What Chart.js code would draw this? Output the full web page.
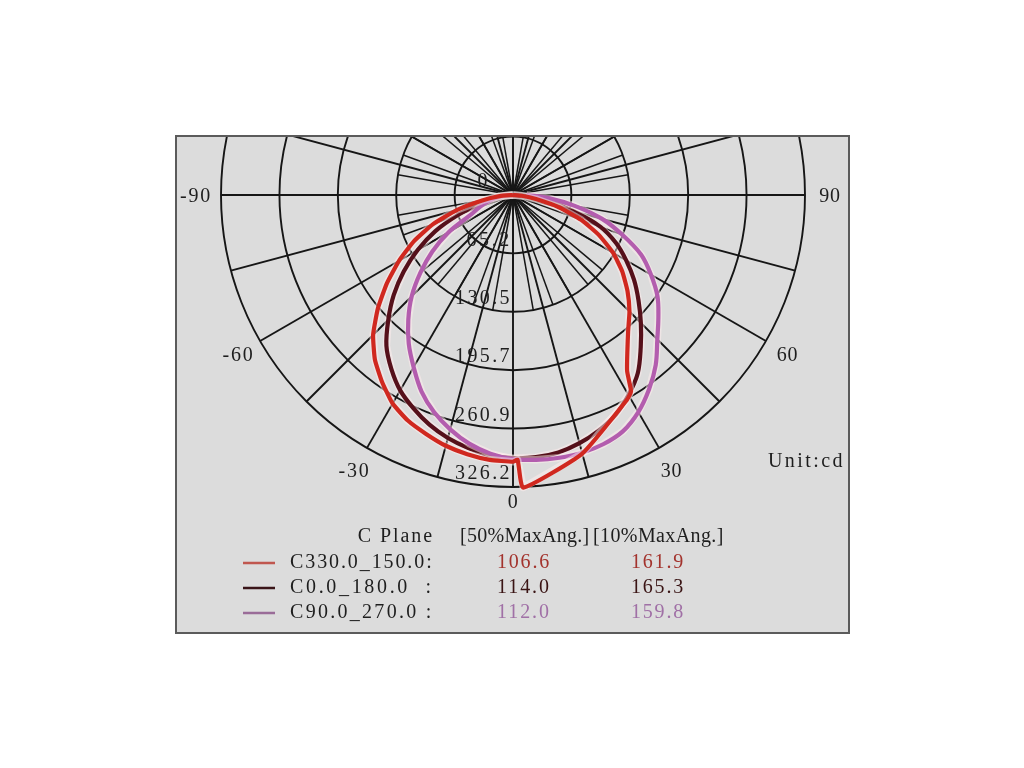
<!DOCTYPE html>
<html><head><meta charset="utf-8">
<script src="https://cdn.jsdelivr.net/npm/chart.js@4"></script>
<style>
html,body{margin:0;padding:0;background:#fff;width:1024px;height:768px;overflow:hidden}
#panel{position:absolute;left:175px;top:135px;width:671px;height:495px;border:2px solid #5b5b5b;background:#dcdcdc}
#panel canvas{display:block}
</style></head><body>
<div id="panel"><canvas id="c" width="671" height="495"></canvas></div>
<script>
// ---------- data (angles in degrees, intensities in cd) ----------
const stdAngles = [-90,-85,-80,-75,-70,-65,-60,-55,-50,-45,-40,-35,-30,-25,-20,-15,-10,-5,0,5,10,15,20,25,30,35,40,45,50,55,60,65,70,75,80,85,90];
const redAngles = [-90,-85,-80,-75,-70,-65,-60,-55,-50,-45,-40,-35,-30,-25,-20,-15,-10,-5,0,1,2,15,29,31,33,40,45,50,55,60,65,70,75,80,85,90];
const c330Values = [0,15,35,65,95,122,147,172,197,221,240,255,269,278,284,290,294,297,298,296,327,299,262,256,234,200,184,167,149,129,106,81,53,26,10,0];
const c0Values = [0,15,25,38,66,96,123,149,174,197,220,237,252,263,273,281,287,292,294,294,292,287,280,271,258,243,222,202,183,165,146,127,104,70,40,15,0];
const c90Values = [0,10,20,30,40,52,83,110,135,160,182,203,222,242,258,271,282,290,295,297,298,298,296,291,280,265,248,228,212,197,178,158,130,103,70,40,15];

const ringValues = [0, 65.2, 130.5, 195.7, 260.9, 326.2];
const ringLabels = ['0', '65.2', '130.5', '195.7', '260.9', '326.2'];
const angleTicks = [-90, -60, -30, 0, 30, 60, 90];
const angleTickLabels = ['-90', '-60', '-30', '0', '30', '60', '90'];

const planeNames = ['C330.0_150.0:', 'C0.0_180.0  :', 'C90.0_270.0 :'];
const halfMaxAngles = ['106.6', '114.0', '112.0'];
const tenthMaxAngles = ['161.9', '165.3', '159.8'];
const legendHeader = ['C Plane', '[50%MaxAng.]', '[10%MaxAng.]'];
const unitLabel = 'Unit:cd';

// ---------- styles / layout ----------
const seriesColors = ['#d0281f', '#55101a', '#b35dae'];
const sampleColors = ['#c0574f', '#3a1518', '#9a6c98'];
const valueColors = ['#a3332d', '#3a1414', '#a070a6'];
const W = 671, H = 495, ORIGIN_X = 336, ORIGIN_Y = 58, OUTER_PX = 292;
const maxRing = ringValues[ringValues.length - 1];
const pp = OUTER_PX / maxRing;
const FONT = "20px 'Liberation Serif', 'DejaVu Serif', serif";
const CW = 11;

function toXY(angles, values) {
  return angles.map((a, i) => ({
    x: values[i] * Math.sin(a * Math.PI / 180),
    y: -values[i] * Math.cos(a * Math.PI / 180)
  }));
}

function monoText(ctx, s, x, y, align, cw) {
  const n = s.length, w = n * cw;
  ctx.letterSpacing = '0px';
  const m = ctx.measureText(s).width;
  const sp = cw - m / n;
  let x0 = x;
  if (align === 'right') x0 = x - w;
  else if (align === 'center') x0 = x - w / 2;
  ctx.textAlign = 'left';
  ctx.letterSpacing = sp.toFixed(2) + 'px';
  ctx.fillText(s, x0, y);
  ctx.letterSpacing = '0px';
}

const gridPlugin = {
  id: 'polarGrid',
  beforeDatasetsDraw(chart) {
    const ctx = chart.ctx, xs = chart.scales.x, ys = chart.scales.y;
    const cx = xs.getPixelForValue(0), cy = ys.getPixelForValue(0);
    const rpx = v => xs.getPixelForValue(v) - cx;
    const a = chart.chartArea;
    ctx.save();
    ctx.beginPath(); ctx.rect(a.left, a.top, a.right - a.left, a.bottom - a.top); ctx.clip();
    ctx.strokeStyle = '#161616';
    ctx.lineWidth = 1.9;
    for (let i = 1; i < ringValues.length; i++) {
      ctx.beginPath(); ctx.arc(cx, cy, rpx(ringValues[i]), 0, Math.PI * 2); ctx.stroke();
    }
    const R = rpx(maxRing);
    for (let d = 0; d < 360; d += 15) {
      const t = d * Math.PI / 180;
      ctx.beginPath(); ctx.moveTo(cx, cy); ctx.lineTo(cx + R * Math.sin(t), cy + R * Math.cos(t)); ctx.stroke();
    }
    const R2 = rpx(ringValues[2]);
    ctx.lineWidth = 1.5;
    for (let d = 0; d < 360; d += 10) {
      const t = d * Math.PI / 180;
      ctx.beginPath(); ctx.moveTo(cx, cy); ctx.lineTo(cx + R2 * Math.sin(t), cy + R2 * Math.cos(t)); ctx.stroke();
    }
    ctx.font = FONT;
    ctx.fillStyle = '#1e1e1e';
    ctx.textBaseline = 'middle';
    for (let i = 0; i < ringValues.length; i++) {
      const xr = i === 0 ? cx - 24 : cx - 1;
      monoText(ctx, ringLabels[i], xr, cy + rpx(ringValues[i]) - 13, 'right', 11.4);
    }
    for (let i = 0; i < angleTicks.length; i++) {
      const t = angleTicks[i] * Math.PI / 180;
      const rr = angleTicks[i] === 0 ? 306 : 317;
      monoText(ctx, angleTickLabels[i], cx + rr * Math.sin(t), cy + rr * Math.cos(t) + 2, 'center', 10.7);
    }
    monoText(ctx, unitLabel, 668, 325, 'right', CW);
    ctx.restore();
  }
};

const haloPlugin = {
  id: 'halo',
  beforeDatasetDraw(chart, args) {
    const pts = args.meta.data;
    if (!pts || !pts.length) return;
    const ctx = chart.ctx;
    ctx.save();
    ctx.strokeStyle = 'rgba(255,238,238,0.5)';
    ctx.lineWidth = 7.5;
    ctx.lineJoin = 'round';
    ctx.beginPath();
    pts.forEach((p, i) => i ? ctx.lineTo(p.x, p.y) : ctx.moveTo(p.x, p.y));
    ctx.stroke();
    ctx.restore();
  }
};

const legendPlugin = {
  id: 'tableLegend',
  afterDraw(chart) {
    const ctx = chart.ctx;
    ctx.save();
    ctx.font = FONT;
    ctx.textBaseline = 'middle';
    ctx.fillStyle = '#1e1e1e';
    monoText(ctx, legendHeader[0], 257, 400, 'right', 10.9);
    monoText(ctx, legendHeader[1], 283, 400, 'left', 10.8);
    monoText(ctx, legendHeader[2], 416, 400, 'left', 10.9);
    const rowsY = [426, 451, 476];
    for (let i = 0; i < planeNames.length; i++) {
      const y = rowsY[i];
      ctx.strokeStyle = sampleColors[i];
      ctx.lineWidth = 2.5;
      ctx.beginPath(); ctx.moveTo(66, y); ctx.lineTo(98, y); ctx.stroke();
      ctx.fillStyle = '#1e1e1e';
      monoText(ctx, planeNames[i], 113, y, 'left', 11.05);
      ctx.fillStyle = valueColors[i];
      monoText(ctx, halfMaxAngles[i], 347, y, 'center', 10.8);
      monoText(ctx, tenthMaxAngles[i], 481, y, 'center', 10.8);
    }
    ctx.restore();
  }
};

const mk = (label, data, color, tension) => ({
  label, data, borderColor: color, backgroundColor: color,
  showLine: true, fill: false, pointRadius: 0, borderWidth: 4.2, tension,
  borderJoinStyle: 'round'
});

new Chart(document.getElementById('c'), {
  type: 'scatter',
  data: {
    datasets: [
      mk(planeNames[0], toXY(redAngles, c330Values), seriesColors[0], 0.15),
      mk(planeNames[2], toXY(stdAngles, c90Values), seriesColors[2], 0.35),
      mk(planeNames[1], toXY(stdAngles, c0Values), seriesColors[1], 0.35)
    ]
  },
  options: {
    responsive: false, animation: false, devicePixelRatio: 1,
    layout: { padding: 0 },
    plugins: { legend: { display: false }, tooltip: { enabled: false }, title: { display: false } },
    scales: {
      x: { type: 'linear', display: false, min: -ORIGIN_X / pp, max: (W - ORIGIN_X) / pp },
      y: { type: 'linear', display: false, min: -(H - ORIGIN_Y) / pp, max: ORIGIN_Y / pp }
    }
  },
  plugins: [gridPlugin, haloPlugin, legendPlugin]
});
</script>
</body></html>
